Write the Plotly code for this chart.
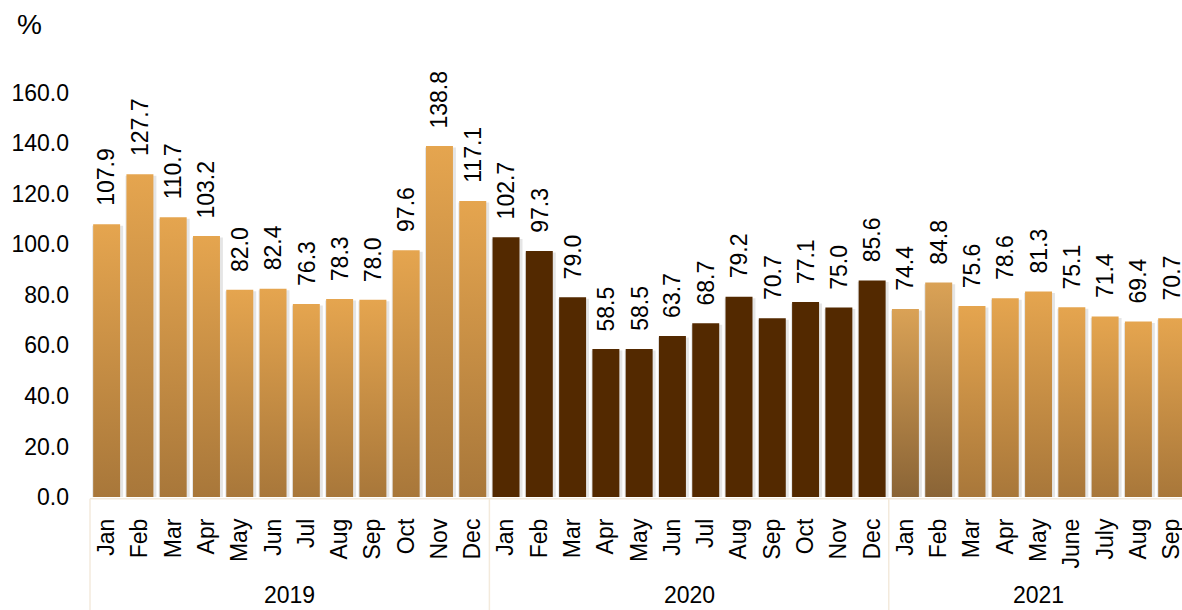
import plotly.graph_objects as go

# ---------------- data ----------------
years = ["2019", "2020", "2021"]
months_2019 = ["Jan", "Feb", "Mar", "Apr", "May", "Jun", "Jul", "Aug", "Sep", "Oct", "Nov", "Dec"]
months_2020 = ["Jan", "Feb", "Mar", "Apr", "May", "Jun", "Jul", "Aug", "Sep", "Oct", "Nov", "Dec"]
months_2021 = ["Jan", "Feb", "Mar", "Apr", "May", "June", "July", "Aug", "Sep"]
values_2019 = [107.9, 127.7, 110.7, 103.2, 82.0, 82.4, 76.3, 78.3, 78.0, 97.6, 138.8, 117.1]
values_2020 = [102.7, 97.3, 79.0, 58.5, 58.5, 63.7, 68.7, 79.2, 70.7, 77.1, 75.0, 85.6]
values_2021 = [74.4, 84.8, 75.6, 78.6, 81.3, 75.1, 71.4, 69.4, 70.7]
y_unit = "%"

# ---------------- styles ----------------
FONT = "Liberation Sans, Arial, sans-serif"
FS = 23
BAR_W = 0.81
X_RANGE = [-0.5, 32.31]
Y_RANGE = [0, 178]
LINE_COL = "#F3EADC"
light_grad = ("#A8773A", "#E5A54F")          # bottom, top
dark_grad_2021 = ("#8A6436", "#DAA256")
solid_2020 = "#532900"

groups = [(years[0], months_2019, values_2019),
          (years[1], months_2020, values_2020),
          (years[2], months_2021, values_2021)]

fig = go.Figure()

xs, labels, vals, fills = [], [], [], []
i = 0
for gi, (yr, ms, vs) in enumerate(groups):
    for k, (m, v) in enumerate(zip(ms, vs)):
        xs.append(i)
        labels.append(m)
        vals.append(v)
        if gi == 1:
            fills.append(("solid", solid_2020))
        elif gi == 2 and k < 2:
            fills.append(("grad", dark_grad_2021))
        else:
            fills.append(("grad", light_grad))
        i += 1

# shadows
for x, v in zip(xs, vals):
    x0, x1 = x - BAR_W / 2 - 0.03, x + BAR_W / 2 + 0.09
    fig.add_trace(go.Scatter(
        x=[x0, x0, x1, x1, x0], y=[0, v - 0.6, v - 0.6, 0, 0],
        mode="lines", line=dict(width=0), fill="toself",
        fillcolor="rgba(0,0,0,0.10)", hoverinfo="skip", showlegend=False))

# bars
for x, v, (kind, col) in zip(xs, vals, fills):
    x0, x1 = x - BAR_W / 2, x + BAR_W / 2
    kw = dict(x=[x0, x0, x1, x1, x0], y=[0, v, v, 0, 0],
              mode="lines", line=dict(width=0), fill="toself",
              hoverinfo="skip", showlegend=False)
    if kind == "solid":
        kw["fillcolor"] = col
    else:
        kw["fillgradient"] = dict(type="vertical",
                                  colorscale=[[0, col[0]], [1, col[1]]])
    fig.add_trace(go.Scatter(**kw))

# value labels
for x, v in zip(xs, vals):
    fig.add_annotation(x=x, y=v, text=f"{v:.1f}", textangle=-90,
                       showarrow=False, xanchor="center", yanchor="bottom",
                       yshift=16, font=dict(family=FONT, size=FS, color="#000"))

# group separators and year labels
span = X_RANGE[1] - X_RANGE[0]
start = 0
bounds = [-0.5]
for yr, ms, vs in groups:
    end = start + len(ms) - 1
    bounds.append(end + 0.5)
    fig.add_annotation(x=(start + end) / 2, y=-0.218, xref="x", yref="paper",
                       text=yr, showarrow=False, yanchor="middle",
                       font=dict(family=FONT, size=FS, color="#000"))
    start = end + 1

for b in bounds[:-1]:
    px = (b - X_RANGE[0]) / span
    fig.add_shape(type="line", xref="paper", yref="paper",
                  x0=px, x1=px, y0=-0.004, y1=-0.26,
                  line=dict(color=LINE_COL, width=1.5))
fig.add_shape(type="line", xref="paper", yref="paper", x0=0, x1=1,
              y0=-0.004, y1=-0.004, line=dict(color=LINE_COL, width=1.5))

# unit label
fig.add_annotation(x=-0.0554, y=1.051, xref="paper", yref="paper", text=y_unit,
                   showarrow=False, xanchor="center", yanchor="middle",
                   font=dict(family=FONT, size=28, color="#000"))

fig.update_layout(
    width=1182, height=610,
    margin=dict(l=90, r=0, t=47, b=113),
    paper_bgcolor="white", plot_bgcolor="white",
    font=dict(family=FONT, size=FS, color="#000"),
    showlegend=False,
    xaxis=dict(range=X_RANGE, tickvals=xs, ticktext=labels, tickangle=-90,
               showgrid=False, zeroline=False, showline=False, ticks="",
               ticklabelstandoff=16, fixedrange=True, automargin=False,
               ticklabeloverflow="allow",
               tickfont=dict(family=FONT, size=FS, color="#000")),
    yaxis=dict(range=Y_RANGE, dtick=20, tick0=0, tickformat=".1f",
               showgrid=False, zeroline=False, showline=False, ticks="",
               ticklabelstandoff=20, fixedrange=True, automargin=False,
               tickfont=dict(family=FONT, size=FS, color="#000")),
)

# remove the page's default body margin so the figure fills the window exactly
fig.write_html("out.html", config={"displayModeBar": False},
               post_script="document.body.style.margin='0';"
                           "document.body.style.overflow='hidden';")
